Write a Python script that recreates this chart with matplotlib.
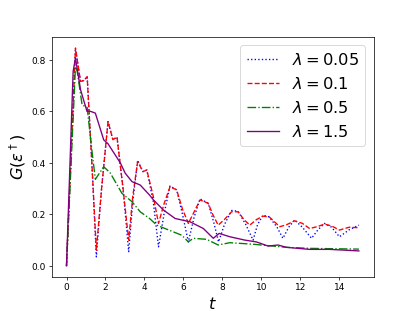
import matplotlib
matplotlib.use("Agg")
import matplotlib.pyplot as plt

# lambda = 0.05
t_005 = [0, 0.46, 0.72, 0.9, 1.06, 1.3, 1.53, 1.8, 2.13, 2.38, 2.59, 2.9, 3.19, 3.4, 3.65, 3.92,
         4.12, 4.45, 4.72, 5.0, 5.31, 5.65, 5.95, 6.25, 6.55, 6.85, 7.27, 7.55, 7.8, 8.1,
         8.47, 8.8, 9.2, 9.57, 9.8, 10.08, 10.4, 10.8, 11.1, 11.4, 11.7, 12.1, 12.57, 12.9,
         13.23, 13.6, 14.0, 14.5, 15.0]
g_005 = [0, 0.84, 0.716, 0.72, 0.735, 0.4, 0.035, 0.3, 0.56, 0.49, 0.50, 0.3, 0.055, 0.25, 0.41, 0.366,
         0.372, 0.25, 0.074, 0.2, 0.31, 0.295, 0.2, 0.093, 0.19, 0.26, 0.243, 0.17, 0.093, 0.16,
         0.215, 0.212, 0.16, 0.10, 0.16, 0.197, 0.19, 0.15, 0.107, 0.15, 0.178, 0.15, 0.107, 0.14,
         0.165, 0.15, 0.113, 0.14, 0.158]

# lambda = 0.1
t_01 = [0, 0.46, 0.72, 0.9, 1.06, 1.3, 1.53, 1.8, 2.13, 2.38, 2.59, 2.9, 3.19, 3.4, 3.65, 3.92,
        4.12, 4.45, 4.72, 5.0, 5.31, 5.65, 5.95, 6.25, 6.55, 6.85, 7.27, 7.5, 7.78, 8.1,
        8.47, 8.8, 9.1, 9.4, 9.75, 10.08, 10.4, 10.94, 11.3, 11.7, 12.1, 12.47, 12.85,
        13.23, 13.6, 14.0, 14.5, 15.0]
g_01 = [0, 0.846, 0.716, 0.72, 0.735, 0.4, 0.061, 0.3, 0.56, 0.49, 0.50, 0.3, 0.10, 0.27, 0.405, 0.366,
        0.372, 0.27, 0.165, 0.24, 0.307, 0.295, 0.22, 0.165, 0.21, 0.256, 0.243, 0.2, 0.158, 0.18,
        0.21, 0.21, 0.18, 0.158, 0.18, 0.193, 0.19, 0.152, 0.16, 0.175, 0.165, 0.145, 0.152,
        0.162, 0.155, 0.139, 0.15, 0.148]

# lambda = 0.5
t_05 = [0, 0.46, 0.55, 0.8, 1.06, 1.3, 1.48, 1.91, 2.25, 2.84, 3.36, 3.78, 4.26, 4.63, 5.48,
        5.91, 6.25, 6.5, 7.19, 7.78, 8.38, 9.57, 11.28, 12.47, 15.0]
g_05 = [0, 0.774, 0.755, 0.625, 0.615, 0.45, 0.336, 0.385, 0.36, 0.282, 0.249, 0.21, 0.184, 0.158, 0.132,
        0.119, 0.093, 0.107, 0.103, 0.081, 0.09, 0.084, 0.072, 0.068, 0.065]

# lambda = 1.5
t_15 = [0, 0.34, 0.46, 0.72, 1.05, 1.23, 1.48, 1.91, 2.13, 2.76, 3.01, 3.36, 3.78, 4.26, 4.46,
        4.97, 5.57, 6.34, 7.02, 7.53, 7.83, 8.38, 9.15, 9.74, 10.34, 10.85, 11.28, 12.47, 13.5, 15.0]
g_15 = [0, 0.755, 0.807, 0.684, 0.60, 0.60, 0.593, 0.489, 0.474, 0.40, 0.36, 0.327, 0.314, 0.275, 0.256,
        0.217, 0.184, 0.171, 0.145, 0.107, 0.126, 0.113, 0.10, 0.093, 0.077, 0.081, 0.072, 0.064, 0.064, 0.058]

fig, ax = plt.subplots(figsize=(6.4, 4.8), dpi=64.85)
ax.plot(t_005, g_005, ':', color='b', label=r'$\lambda=0.05$')
ax.plot(t_01, g_01, '--', color='r', label=r'$\lambda=0.1$')
ax.plot(t_05, g_05, '-.', color='g', label=r'$\lambda=0.5$')
ax.plot(t_15, g_15, '-', color='purple', label=r'$\lambda=1.5$')
ax.set_xlabel(r'$t$', fontsize=18)
ax.set_ylabel(r'$G(\varepsilon^\dagger)$', fontsize=18)
ax.legend(fontsize=18, loc='upper right')
fig.savefig('out.png')
